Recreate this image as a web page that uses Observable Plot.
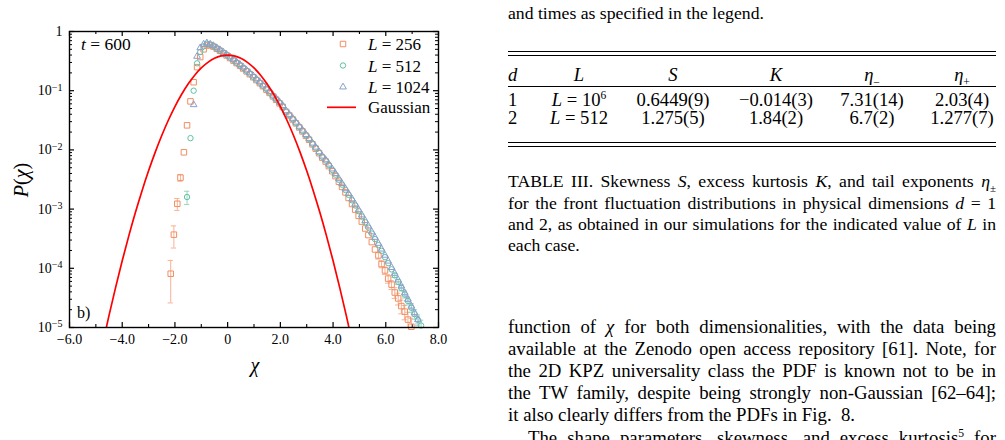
<!DOCTYPE html>
<html><head><meta charset="utf-8">
<script src="https://cdn.jsdelivr.net/npm/d3@7"></script>
<script src="https://cdn.jsdelivr.net/npm/@observablehq/plot@0.6"></script>
<style>
html,body{margin:0;padding:0;background:#fff;}
#page{position:relative;width:1005px;height:440px;overflow:hidden;font-family:"Liberation Serif","Times New Roman",serif;color:#000;background:#fff;}
.abs{position:absolute;white-space:nowrap;}
.cap{position:absolute;left:508px;width:488px;font-size:17.7px;line-height:21.2px;white-space:nowrap;}
.body{position:absolute;left:508px;width:488px;font-size:18.8px;line-height:22.2px;white-space:nowrap;}
.rule{position:absolute;left:508px;width:488px;height:1px;background:#000;}
.tc{position:absolute;font-size:18.6px;line-height:18px;white-space:nowrap;transform:translateX(-50%);}
.tl{position:absolute;font-size:18.6px;line-height:18px;white-space:nowrap;}
sub,sup{font-size:0.62em;line-height:0;}
</style>
</head><body>
<div id="page">
  <div id="chart" class="abs" style="left:0;top:0;"></div>
  <svg id="overlay" class="abs" style="left:0;top:0;" width="450" height="380"></svg>
  <div class="abs" style="left:81px;top:34px;font-size:17.5px;line-height:20px;"><i>t</i> = 600</div>
  <div class="abs" style="left:77px;top:302.6px;font-size:16px;line-height:20px;">b)</div>
  <div class="abs" style="left:21px;top:180px;font-size:20px;transform:translate(-50%,-50%) rotate(-90deg);"><i>P</i>(<i>χ</i>)</div>
  <div class="abs" style="left:255px;top:365px;font-size:20px;transform:translate(-50%,-50%);"><i>χ</i></div>

  <div class="cap" style="top:3.4px">and times as specified in the legend.</div>

  <div class="rule" style="top:51px"></div>
  <div class="rule" style="top:54.5px"></div>
  <div class="tl" style="left:508px;top:66.4px"><i>d</i></div>
  <div class="tc" style="left:579px;top:66.4px"><i>L</i></div>
  <div class="tc" style="left:673px;top:66.4px"><i>S</i></div>
  <div class="tc" style="left:776px;top:66.4px"><i>K</i></div>
  <div class="tc" style="left:872px;top:66.4px"><i>η</i><sub>−</sub></div>
  <div class="tc" style="left:962px;top:66.4px"><i>η</i><sub>+</sub></div>
  <div class="rule" style="top:86px"></div>
  <div class="tl" style="left:508px;top:90.7px">1</div>
  <div class="tc" style="left:579px;top:90.7px"><i>L</i> = 10<sup>6</sup></div>
  <div class="tc" style="left:673px;top:90.7px">0.6449(9)</div>
  <div class="tc" style="left:776px;top:90.7px">−0.014(3)</div>
  <div class="tc" style="left:872px;top:90.7px">7.31(14)</div>
  <div class="tc" style="left:962px;top:90.7px">2.03(4)</div>
  <div class="tl" style="left:508px;top:109.2px">2</div>
  <div class="tc" style="left:579px;top:109.2px"><i>L</i> = 512</div>
  <div class="tc" style="left:673px;top:109.2px">1.275(5)</div>
  <div class="tc" style="left:776px;top:109.2px">1.84(2)</div>
  <div class="tc" style="left:872px;top:109.2px">6.7(2)</div>
  <div class="tc" style="left:962px;top:109.2px">1.277(7)</div>
  <div class="rule" style="top:142.2px"></div>
  <div class="rule" style="top:145.7px"></div>

  <div class="cap j" style="top:171.4px">TABLE III. Skewness <i>S</i>, excess kurtosis <i>K</i>, and tail exponents <i>η</i><sub>±</sub></div>
  <div class="cap j" style="top:192.6px">for the front fluctuation distributions in physical dimensions <i>d</i> = 1</div>
  <div class="cap j" style="top:213.8px">and 2, as obtained in our simulations for the indicated value of <i>L</i> in</div>
  <div class="cap" style="top:235px">each case.</div>

  <div class="body j" style="top:315.6px">function of <i>χ</i> for both dimensionalities, with the data being</div>
  <div class="body j" style="top:337.8px">available at the Zenodo open access repository [61]. Note, for</div>
  <div class="body j" style="top:360px">the 2D KPZ universality class the PDF is known not to be in</div>
  <div class="body j" style="top:382.2px">the TW family, despite being strongly non-Gaussian [62–64];</div>
  <div class="body" style="top:404.4px">it also clearly differs from the PDFs in Fig.&nbsp; 8.</div>
  <div class="body j" style="top:426.6px;left:528px;width:468px">The shape parameters, skewness, and excess kurtosis<sup>5</sup> for</div>
</div>
<script>
// ---- data ----
const chi = [-2.16,-2.04,-1.91,-1.79,-1.66,-1.54,-1.41,-1.29,-1.16,-1.04,-0.91,-0.79,-0.66,-0.54,-0.41,-0.29,-0.16,-0.04,
 0.09,0.22,0.34,0.47,0.59,0.72,0.84,0.97,1.09,1.22,1.34,1.47,1.59,1.72,1.84,1.97,2.09,2.22,2.34,2.47,2.59,2.72,2.84,2.97,
 3.09,3.22,3.34,3.47,3.59,3.72,3.84,3.97,4.09,4.22,4.34,4.47,4.59,4.72,4.84,4.97,5.09,5.22,5.34,5.47,5.59,5.72,5.84,5.97,
 6.09,6.22,6.34,6.47,6.59,6.72,6.84,6.97,7.09,7.22,7.34];

const p256 = [8.1e-5,3.7e-4,1.23e-3,3.4e-3,9.1e-3,0.026,0.066,0.139,0.25,0.37,0.50,0.58,0.59,0.555,
 0.51,0.472,0.428,0.394,0.356,0.322,0.292,0.263,0.237,0.212,0.19,0.169,
 0.151,0.134,0.119,0.104,0.0918,0.08,0.0703,0.061,
 0.0532,0.0438,0.0381,0.0326,0.0281,0.0239,0.0205,0.0173,
 0.0148,0.0124,0.0105,0.00878,0.0074,0.00635,0.00532,0.00436,
 0.00361,0.00289,0.00237,0.00191,0.00154,0.00122,0.00098,0.00077,
 0.000615,0.00047,0.000364,0.000277,0.000208,0.000165,0.000118,0.000092,
 0.000067,0.000053,0.000039,0.000031,0.000023,0.0000185,0.0000136,0.0000103,
 null,null,null];

const p512 = [null,null,null,null,null,0.0016,0.0158,0.1,0.29,0.45,0.56,0.62,0.6,0.565,
 0.516,0.478,0.434,0.4,0.362,0.33,0.297,0.268,0.242,0.216,0.194,0.172,
 0.154,0.137,0.121,0.107,0.0935,0.0818,0.0718,0.0622,
 0.0543,0.0445,0.0386,0.0331,0.0286,0.0244,0.0209,0.0177,
 0.0152,0.0127,0.0108,0.00905,0.00765,0.00662,0.00556,0.00458,
 0.00382,0.00313,0.00259,0.0021,0.00174,0.00141,0.00115,0.00092,
 0.00075,0.0006,0.000486,0.000386,0.000311,0.000246,0.000197,0.000154,
 0.000122,0.000096,0.000076,0.000059,0.0000465,0.000036,0.000028,0.0000215,
 0.0000168,0.0000135,0.0000108];

const p1024 = [null,null,null,null,null,null,null,0.058,0.38,0.53,0.61,0.64,0.61,0.575,
 0.53,0.49,0.447,0.41,0.372,0.337,0.306,0.276,0.249,0.222,0.2,0.178,
 0.159,0.141,0.125,0.11,0.0965,0.0842,0.074,0.0641,
 0.056,0.0458,0.0397,0.0341,0.0294,0.025,0.0215,0.0182,
 0.0156,0.013,0.0111,0.00928,0.00785,0.0068,0.00575,0.00476,
 0.00397,0.00326,0.0027,0.0022,0.00182,0.00148,0.00122,0.000975,
 0.000797,0.000638,0.000518,0.000412,0.000333,0.000263,0.000211,0.000166,
 0.000132,0.000103,0.000082,0.0000635,0.00005,0.0000385,0.00003,0.000023,
 0.0000178,0.0000135,null];

// error bars: [chi, sigma]
const err256 = [[-2.16,5.5e-5],[-2.04,1.5e-4],[-1.91,2.8e-4],[-1.79,4.5e-4],[5.72,2.2e-5],[5.84,1.6e-5],[5.97,1.3e-5],
 [6.09,1.1e-5],[6.22,9e-6],[6.34,8e-6],[6.47,7e-6],[6.59,6e-6],[6.72,5e-6],[6.84,4.5e-6],[6.97,4e-6]];
const err512 = [[-1.54,4e-4],[6.34,6e-6],[6.47,5.5e-6],[6.59,5e-6],[6.72,4.5e-6],[6.84,4e-6],[6.97,3.5e-6],[7.09,3e-6],[7.22,2.8e-6],[7.34,2.5e-6]];
const err1024 = [[6.59,3.2e-6],[6.72,3e-6],[6.84,2.6e-6],[6.97,2.4e-6],[7.09,2.2e-6],[7.22,2e-6]];

const gaussChi = [-4.75,-4.5,-4.25,-4,-3.75,-3.5,-3.25,-3,-2.75,-2.5,-2.25,-2,-1.75,-1.5,-1.25,-1,-0.75,-0.5,-0.25,0,
 0.25,0.5,0.75,1,1.25,1.5,1.75,2,2.25,2.5,2.75,3,3.25,3.5,3.75,4,4.25,4.5,4.75];
const gaussP = [5.03e-6,1.60e-5,4.77e-5,1.34e-4,3.53e-4,8.73e-4,2.03e-3,4.43e-3,9.09e-3,0.0175,0.0317,0.054,0.0863,0.1295,0.1826,0.242,0.3011,0.3521,0.3867,0.3989,
 0.3867,0.3521,0.3011,0.242,0.1826,0.1295,0.0863,0.054,0.0317,0.0175,9.09e-3,4.43e-3,2.03e-3,8.73e-4,3.53e-4,1.34e-4,4.77e-5,1.60e-5,5.03e-6];

const seriesNames = ["L = 256","L = 512","L = 1024"];
const seriesColors = ["#f28e63","#5fc2a2","#8c9fcc"];
const errColors = ["#f7b295","#96d9c2","#b3c0e0"];

const xTicks = [-6,-4,-2,0,2,4,6,8];
const xMinor = [-5,-3,-1,1,3,5,7];
const yTicks = [1e-5,1e-4,1e-3,1e-2,1e-1,1];
const yTickLabels = ["10^−5","10^−4","10^−3","10^−2","10^−1","1"];

// ---- justify single text lines without wrapping ----
document.querySelectorAll(".j").forEach(div=>{
  const target = parseFloat(getComputedStyle(div).width);
  const span = document.createElement("span");
  while(div.firstChild) span.appendChild(div.firstChild);
  div.appendChild(span);
  const natural = span.getBoundingClientRect().width;
  const nSpaces = (span.textContent.match(/ /g)||[]).length;
  if(nSpaces>0 && natural<target) div.style.wordSpacing = ((target-natural)/nSpaces).toFixed(3)+"px";
});

// ---- build tables ----
const pArrays = [p256,p512,p1024];
const errArrays = [err256,err512,err1024];
const points = [];
pArrays.forEach((arr,s)=>chi.forEach((c,i)=>{ if(arr[i]!=null) points.push({chi:c,p:arr[i],s}); }));
const errs = [];
errArrays.forEach((arr,s)=>arr.forEach(([c,sig])=>{
  const i = chi.indexOf(c); const p = pArrays[s][i];
  if(p!=null) errs.push({chi:c,p,lo:p-sig,hi:p+sig,s});
}));
const gauss = gaussChi.map((c,i)=>({chi:c,p:gaussP[i]}));
const yMinor = [];
for(let e=-5;e<0;e++) for(let m=2;m<10;m++) yMinor.push(m*Math.pow(10,e));

const W=450,H=380,ML=69,MR=12,MT=31,MB=53;
const FW=W-ML-MR, FH=H-MT-MB;
const fmtX = d => d===0 ? "0" : (d<0?"\u2212":"") + Math.abs(d).toFixed(1);
const fmtY = d => yTickLabels[yTicks.findIndex(t=>Math.abs(Math.log10(t)-Math.log10(d))<1e-6)] ?? "";

const symbols = ["square","circle","triangle"];
const radii = [3.1,2.7,2.5];
const marks = [];
// ticks (inward)
marks.push(Plot.ruleX(xTicks,{x:d=>d,insetTop:FH-5,strokeWidth:1.2}));
marks.push(Plot.ruleX(xTicks,{x:d=>d,insetBottom:FH-5,strokeWidth:1.2}));
marks.push(Plot.ruleX(xMinor,{x:d=>d,insetTop:FH-3,strokeWidth:1.1}));
marks.push(Plot.ruleX(xMinor,{x:d=>d,insetBottom:FH-3,strokeWidth:1.1}));
marks.push(Plot.ruleY(yTicks,{y:d=>d,insetRight:FW-5,strokeWidth:1.2}));
marks.push(Plot.ruleY(yTicks,{y:d=>d,insetLeft:FW-5,strokeWidth:1.2}));
marks.push(Plot.ruleY(yMinor,{y:d=>d,insetRight:FW-3,strokeWidth:1}));
marks.push(Plot.ruleY(yMinor,{y:d=>d,insetLeft:FW-3,strokeWidth:1}));
// error bars
for(let s=0;s<3;s++){
  const e = errs.filter(d=>d.s===s);
  marks.push(Plot.ruleX(e,{x:"chi",y1:"lo",y2:"hi",stroke:errColors[s],strokeWidth:1,clip:true}));
  marks.push(Plot.ruleY(e,{y:"lo",x1:d=>d.chi-0.1,x2:d=>d.chi+0.1,stroke:errColors[s],strokeWidth:1,clip:true}));
  marks.push(Plot.ruleY(e,{y:"hi",x1:d=>d.chi-0.1,x2:d=>d.chi+0.1,stroke:errColors[s],strokeWidth:1,clip:true}));
}
// points
for(let s=0;s<3;s++){
  marks.push(Plot.dot(points.filter(d=>d.s===s),{x:"chi",y:"p",symbol:symbols[s],r:radii[s],stroke:seriesColors[s],fill:"none",strokeWidth:1}));
}
marks.push(Plot.line(gauss,{x:"chi",y:"p",stroke:"#ff0000",strokeWidth:1.7,curve:"catmull-rom",clip:true}));
marks.push(Plot.frame({stroke:"#000",strokeWidth:1.4}));

const chart = Plot.plot({
  width:W,height:H,marginLeft:ML,marginRight:MR,marginTop:MT,marginBottom:MB,
  style:{fontFamily:'"Liberation Serif","Times New Roman",serif',fontSize:"14px",color:"#000",background:"transparent",overflow:"visible"},
  x:{domain:[-6,8],ticks:xTicks,tickFormat:fmtX,tickSize:0,tickPadding:7,label:null},
  y:{type:"log",domain:[1e-5,1],ticks:yTicks,tickFormat:fmtY,tickSize:0,tickPadding:7,label:null},
  marks
});
document.getElementById("chart").appendChild(chart);

// superscripts on y tick labels
chart.querySelectorAll('g[aria-label="y-axis tick label"] text').forEach(t=>{
  const s = t.textContent;
  if(s.includes("^")){
    const [b,e] = s.split("^");
    t.textContent = "";
    const t1 = document.createElementNS("http://www.w3.org/2000/svg","tspan"); t1.textContent=b; t.appendChild(t1);
    const t2 = document.createElementNS("http://www.w3.org/2000/svg","tspan"); t2.textContent=e;
    t2.setAttribute("dy","-0.45em"); t2.setAttribute("font-size","10px"); t.appendChild(t2);
  }
});

// legend overlay
const ov = d3.select("#overlay");
const legY = [44,65.5,87];
const symFns = [d3.symbolSquare,d3.symbolCircle,d3.symbolTriangle];
seriesNames.forEach((name,s)=>{
  const r = radii[s];
  ov.append("path").attr("d",d3.symbol(symFns[s], r*r*Math.PI)()).attr("transform",`translate(343,${legY[s]})`)
    .attr("fill","none").attr("stroke",seriesColors[s]).attr("stroke-width",1);
  const t = ov.append("text").attr("x",368).attr("y",legY[s]+6).attr("font-family",'"Liberation Serif",serif').attr("font-size","17px");
  t.append("tspan").attr("font-style","italic").text(name.split(" ")[0]);
  t.append("tspan").text(" " + name.split(" ").slice(1).join(" "));
});
ov.append("line").attr("x1",327).attr("x2",356).attr("y1",107.3).attr("y2",107.3).attr("stroke","#ff0000").attr("stroke-width",1.7);
ov.append("text").attr("x",368).attr("y",113).attr("font-family",'"Liberation Serif",serif').attr("font-size","17px").text("Gaussian");
</script>
</body></html>
